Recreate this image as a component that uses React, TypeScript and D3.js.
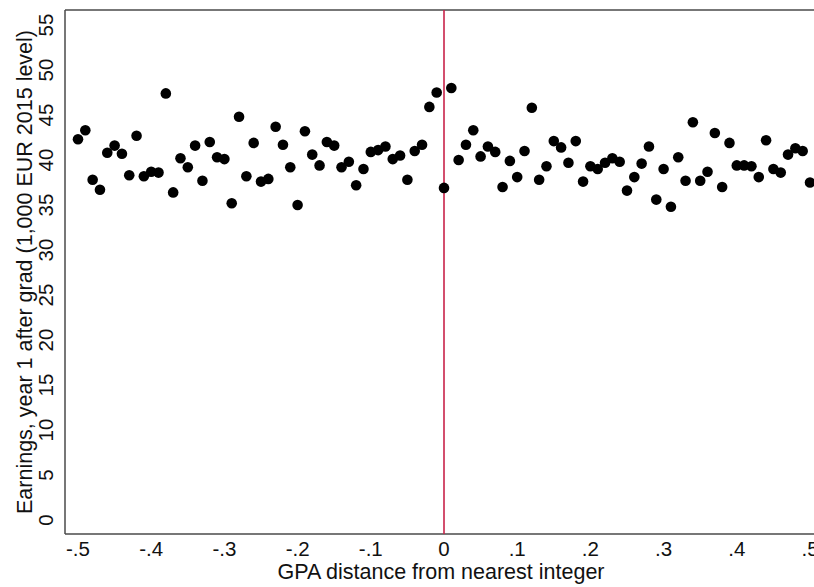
import React from "react";
import * as d3 from "d3";

const xValues: number[] = d3.range(-50, 51).map((i) => i / 100);
const earningsLeft: number[] = [
  42.3, 43.3, 37.8, 36.7, 40.8, 41.6, 40.7, 38.3, 42.7, 38.2,
  38.7, 38.6, 47.4, 36.4, 40.2, 39.2, 41.6, 37.7, 42.0, 40.3,
  40.1, 35.2, 44.8, 38.2, 41.9,
];
const earningsMidLeft: number[] = [
  37.6, 37.9, 43.7, 41.7, 39.2, 35.0, 43.2, 40.6, 39.4, 42.0,
  41.6, 39.2, 39.8, 37.2, 39.0, 40.9, 41.1, 41.5, 40.1, 40.5,
  37.8, 41.0, 41.7, 45.9, 47.5, 36.9,
];
const earningsMidRight: number[] = [
  48.0, 40.0, 41.7, 43.3, 40.4, 41.5, 40.9, 37.0, 39.9, 38.1,
  41.0, 45.8, 37.8, 39.3, 42.1, 41.4, 39.7, 42.1, 37.6, 39.3,
  39.0, 39.7, 40.2, 39.8, 36.6, 38.1,
];
const earningsRight: number[] = [
  39.6, 41.5, 35.6, 39.0, 34.8, 40.3, 37.7, 44.2, 37.7, 38.7,
  43.0, 37.0, 41.9, 39.4, 39.4, 39.3, 38.1, 42.2, 39.0, 38.6,
  40.6, 41.3, 41.0, 37.5,
];
const earnings: number[] = [...earningsLeft, ...earningsMidLeft, ...earningsMidRight, ...earningsRight];

const xTicks: number[] = [-0.5, -0.4, -0.3, -0.2, -0.1, 0, 0.1, 0.2, 0.3, 0.4, 0.5];
const xTickLabels: string[] = ["-.5", "-.4", "-.3", "-.2", "-.1", "0", ".1", ".2", ".3", ".4", ".5"];
const yTicks: number[] = [0, 5, 10, 15, 20, 25, 30, 35, 40, 45, 50, 55];

const W = 814;
const H = 587;
const FONT = "'Liberation Sans', Arial, Helvetica, sans-serif";

export default function App() {
  const x = d3.scaleLinear().domain([-0.5, 0.5]).range([78, 810]);
  const y = d3.scaleLinear().domain([0, 55]).range([520, 25]);
  const left = 65;
  const top = 10;
  const bottom = 534;
  const right = 840;
  const frameColor = "#4a4a4a";

  return (
    <svg width={W} height={H} style={{ position: "absolute", left: 0, top: 0, background: "#fff" }}>
      <rect x={0} y={0} width={W} height={H} fill="#fff" />
      {/* frame */}
      <line x1={left} x2={right} y1={top} y2={top} stroke={frameColor} strokeWidth={1.5} />
      <line x1={left} x2={left} y1={top} y2={bottom} stroke={frameColor} strokeWidth={1.5} />
      <line x1={left} x2={right} y1={bottom} y2={bottom} stroke={frameColor} strokeWidth={1.5} />
      {/* cutoff line */}
      <line x1={x(0)} x2={x(0)} y1={top} y2={bottom} stroke="#c8234a" strokeWidth={1.6} />
      {/* points */}
      {earnings.map((v, i) => (
        <circle key={i} cx={x(xValues[i])} cy={y(v)} r={5.3} fill="#000" />
      ))}
      {/* y tick labels */}
      {yTicks.map((t) => (
        <text
          key={t}
          transform={`translate(53,${y(t)}) rotate(-90)`}
          textAnchor="middle"
          fontFamily={FONT}
          fontSize={20.5}
          fill="#111"
        >
          {t}
        </text>
      ))}
      {/* x tick labels */}
      {xTicks.map((t, i) => (
        <text key={t} x={x(t)} y={555.5} textAnchor="middle" fontFamily={FONT} fontSize={20.5} fill="#111">
          {xTickLabels[i]}
        </text>
      ))}
      {/* axis titles */}
      <text
        transform={`translate(32,${(top + bottom) / 2}) rotate(-90)`}
        textAnchor="middle"
        fontFamily={FONT}
        fontSize={21.5}
        fill="#111"
      >
        Earnings, year 1 after grad (1,000 EUR 2015 level)
      </text>
      <text x={441} y={579} textAnchor="middle" fontFamily={FONT} fontSize={21.5} fill="#111">
        GPA distance from nearest integer
      </text>
    </svg>
  );
}
